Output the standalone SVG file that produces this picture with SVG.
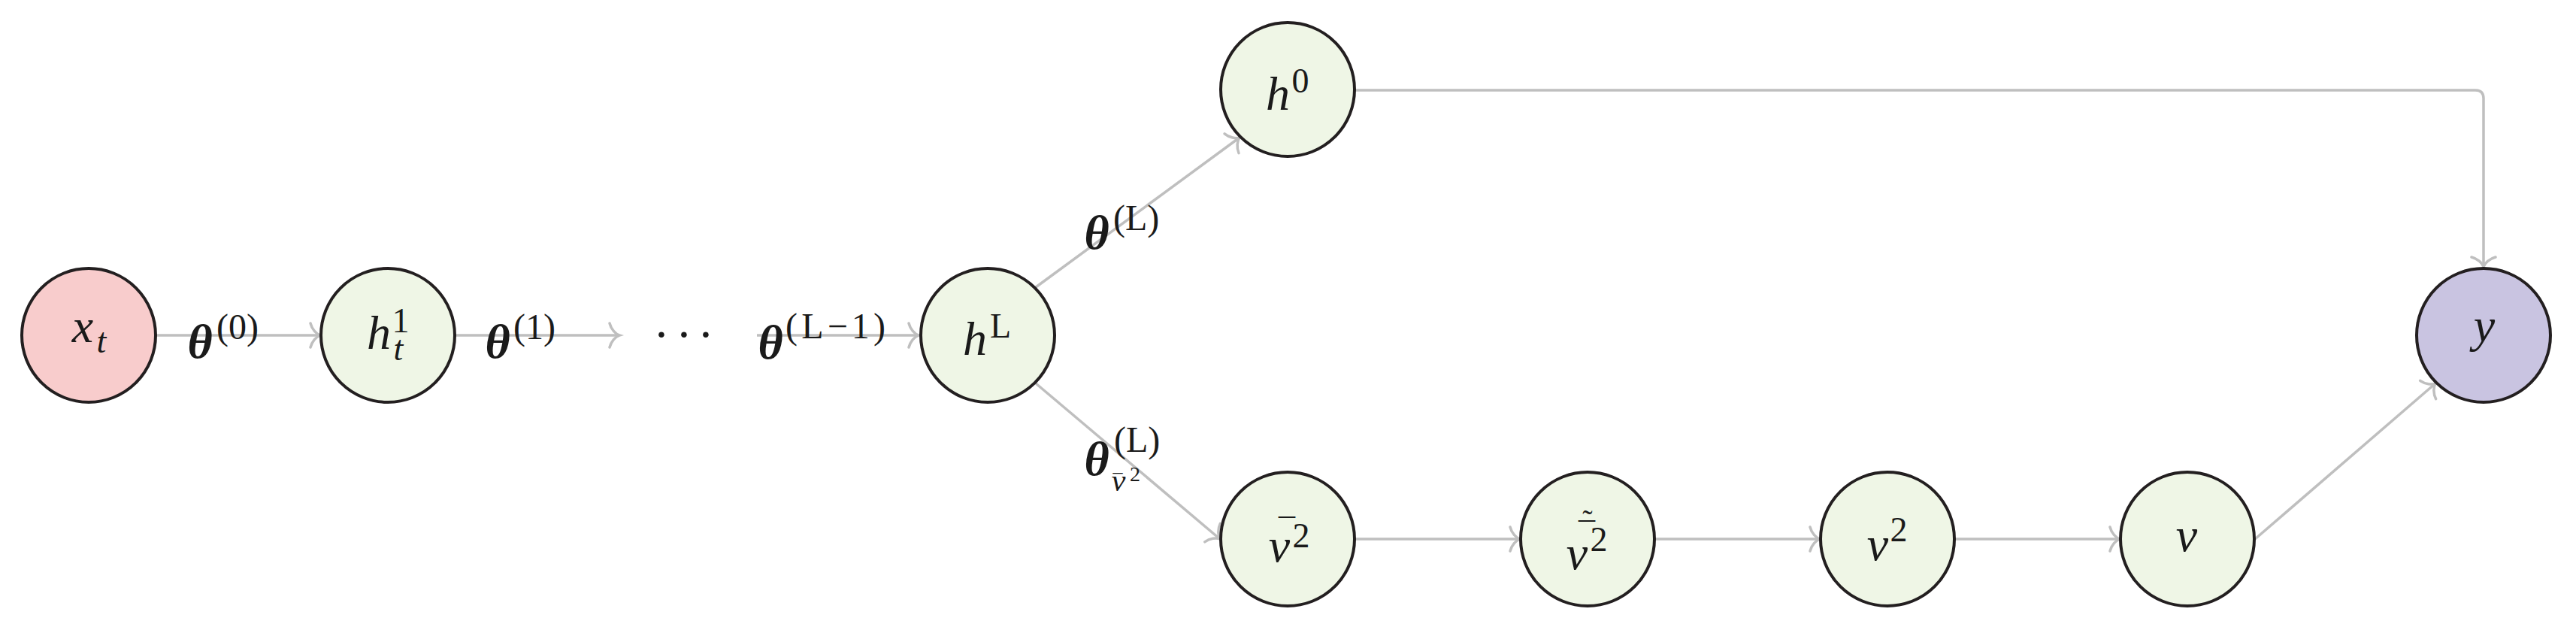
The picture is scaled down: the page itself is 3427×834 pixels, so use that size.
<svg xmlns="http://www.w3.org/2000/svg" width="3427" height="834" viewBox="0 0 3427 834">
<style>
.node{stroke:#231f20;stroke-width:4}
.g{fill:#eff6e6}
.r{fill:#f8cccc}
.p{fill:#c9c4e1}
.edge{fill:none;stroke:#bfbfbf;stroke-width:3.5}
text{font-family:"Liberation Serif","DejaVu Serif",serif;fill:#1a1a1a;text-anchor:middle}
.mi{font-style:italic;font-size:64px}
.th{font-style:italic;font-weight:bold;font-size:64px}
.sp{font-style:normal;font-weight:normal;font-size:46px}
.lp{font-style:normal;font-weight:normal;font-size:48px;text-anchor:start}
.si{font-style:italic;font-weight:normal;font-size:46px}
</style>
<defs>
<marker id="to" markerUnits="userSpaceOnUse" viewBox="-18 -20 22 40" refX="0" refY="0" markerWidth="22" markerHeight="40" orient="auto" overflow="visible">
<path d="M-13,-16 C-11,-8 -5,-1.5 0,0 C-5,1.5 -11,8 -13,16" fill="none" stroke="#bfbfbf" stroke-width="3.5" stroke-linecap="round"/>
</marker>
</defs>
<g id="connectors">
<line class="edge" x1="208" y1="446" x2="426" y2="446" marker-end="url(#to)"/>
<line class="edge" x1="606" y1="446" x2="824" y2="446" marker-end="url(#to)"/>
<line class="edge" x1="1007" y1="446" x2="1222" y2="446" marker-end="url(#to)"/>
<line class="edge" x1="1378" y1="382" x2="1649" y2="183" marker-end="url(#to)"/>
<line class="edge" x1="1378" y1="510" x2="1623" y2="717" marker-end="url(#to)"/>
<line class="edge" x1="1803" y1="717" x2="2022" y2="717" marker-end="url(#to)"/>
<line class="edge" x1="2202" y1="717" x2="2421" y2="717" marker-end="url(#to)"/>
<line class="edge" x1="2601" y1="717" x2="2820" y2="717" marker-end="url(#to)"/>
<line class="edge" x1="3000" y1="717" x2="3240" y2="510" marker-end="url(#to)"/>
<path class="edge" d="M1803,120 H3293 Q3304,120 3304,131 V355" marker-end="url(#to)"/>
</g>
<g id="labels">
<text id="lab-0" class="th" x="266" y="476">θ<tspan class="lp" x="288" y="451">(0)</tspan></text>
<text id="lab-1" class="th" x="662" y="476">θ<tspan class="lp" x="683" y="451">(1)</tspan></text>
<text id="dots" x="880 910 939" y="466" style="font-size:64px">···</text>
<text id="lab-L1" class="th" x="1025" y="477">θ<tspan class="lp" x="1045" y="450" textLength="133">(L−1)</tspan></text>
<text id="lab-Ltop" class="th" x="1459" y="331">θ<tspan class="lp" x="1481" y="306">(L)</tspan></text>
<text id="lab-Lbot" class="th" x="1459" y="632">θ<tspan class="lp" x="1482" y="601">(L)</tspan><tspan class="si" x="1488" y="653" style="font-size:42px">v</tspan><tspan class="sp" x="1487" y="648" style="font-size:26px">¯</tspan><tspan class="sp" x="1510" y="640" style="font-size:28px">2</tspan></text>
</g>
<g id="node-xt">
<circle class="node r" cx="118" cy="446" r="89"/>
<text class="mi" x="110" y="455">x<tspan class="si" x="135" y="469">t</tspan></text>
</g>
<g id="node-ht1">
<circle class="node g" cx="516" cy="446" r="89"/>
<text class="mi" x="504" y="464">h<tspan class="sp" x="533" y="442">1</tspan><tspan class="si" x="530" y="479">t</tspan></text>
</g>
<g id="node-hL">
<circle class="node g" cx="1314" cy="446" r="89"/>
<text class="mi" x="1297" y="472">h<tspan class="sp" x="1331" y="449">L</tspan></text>
</g>
<g id="node-h0">
<circle class="node g" cx="1713" cy="119" r="89"/>
<text class="mi" x="1700" y="146">h<tspan class="sp" x="1730" y="123">0</tspan></text>
</g>
<g id="node-vbar2">
<circle class="node g" cx="1713" cy="717" r="89"/>
<text class="mi" x="1702" y="747">v<tspan class="sp" x="1731" y="728">2</tspan><tspan class="sp" x="1712" y="721" style="font-size:44px">¯</tspan></text>
</g>
<g id="node-vtilde2">
<circle class="node g" cx="2112" cy="717" r="89"/>
<text class="mi" x="2098" y="757">v<tspan class="sp" x="2127" y="733">2</tspan><tspan class="sp" x="2111" y="726" style="font-size:44px">¯</tspan><tspan class="sp" x="2112" y="706" style="font-size:40px">˜</tspan></text>
</g>
<g id="node-v2">
<circle class="node g" cx="2511" cy="717" r="89"/>
<text class="mi" x="2498" y="745">v<tspan class="sp" x="2526" y="720">2</tspan></text>
</g>
<g id="node-v">
<circle class="node g" cx="2910" cy="717" r="89"/>
<text class="mi" x="2909" y="733">v</text>
</g>
<g id="node-y">
<circle class="node p" cx="3304" cy="446" r="89"/>
<text class="mi" x="3305" y="454">y</text>
</g>
</svg>
